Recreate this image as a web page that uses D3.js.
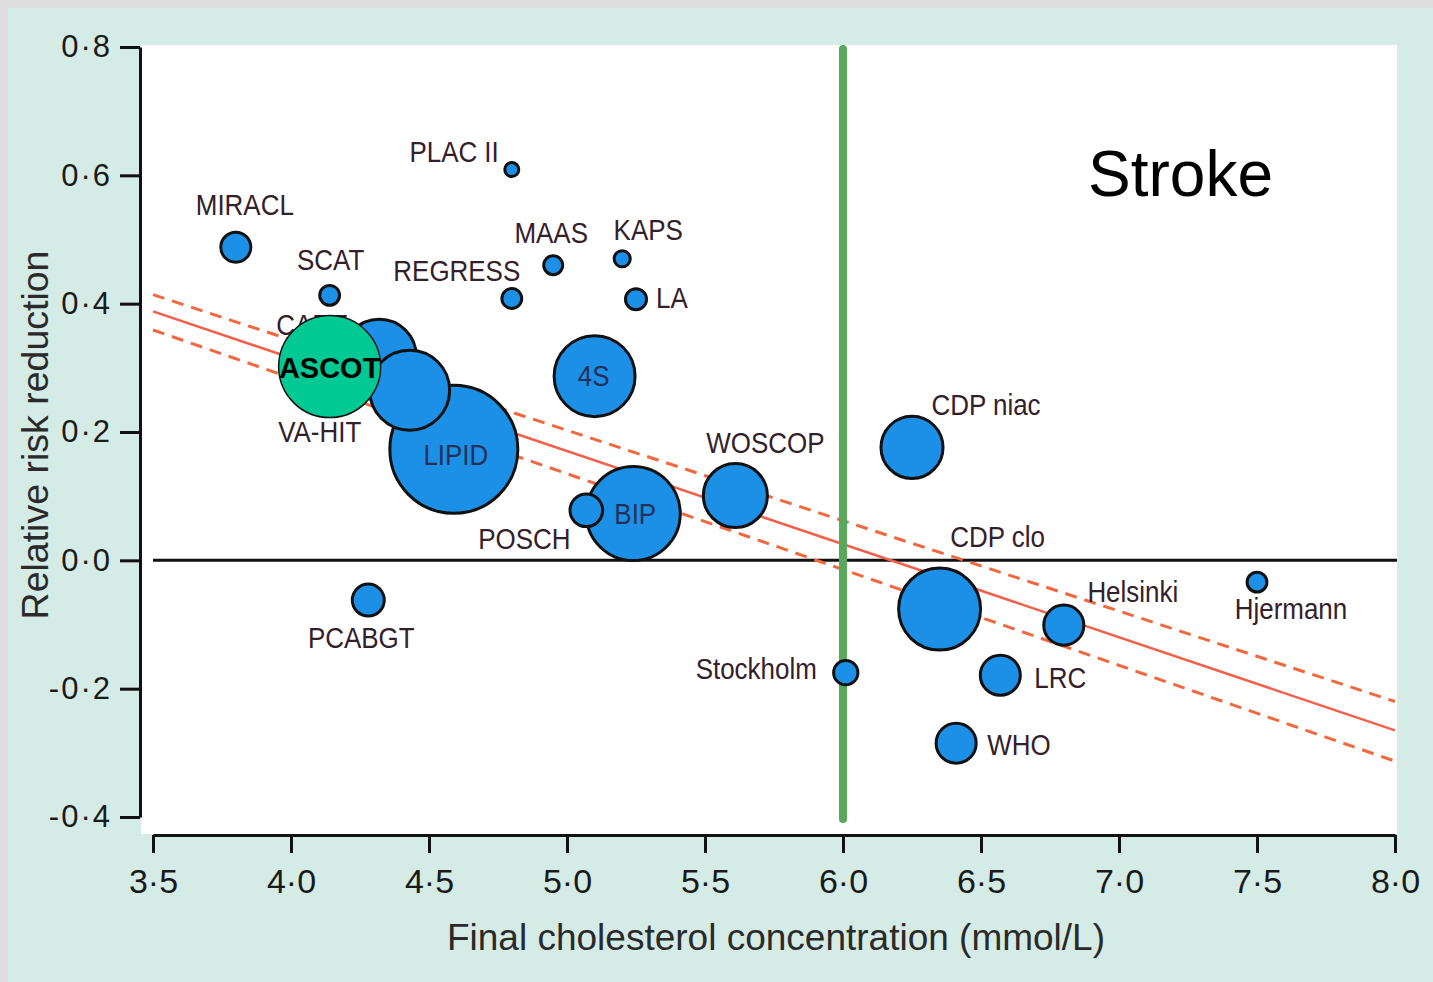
<!DOCTYPE html>
<html>
<head>
<meta charset="utf-8">
<script src="https://cdn.jsdelivr.net/npm/d3@7/dist/d3.min.js"></script>
<style>
  html, body { margin: 0; padding: 0; background: #dedede; }
  svg { display: block; }
</style>
</head>
<body>
<svg id="chart" width="1433" height="982"></svg>
<script>
// ---------------- DATA ----------------
const studies = ["MIRACL","SCAT","PLAC II","MAAS","KAPS","REGRESS","LA","LIPID","CARE","VA-HIT","ASCOT","4S","BIP","POSCH","WOSCOP","PCABGT","CDP niac","CDP clo","Helsinki","Hjermann","Stockholm","LRC","WHO"];
const cholesterol = [3.80,4.14,4.80,4.95,5.20,4.80,5.25,4.59,4.32,4.43,4.14,5.10,5.24,5.07,5.61,4.28,6.25,6.35,6.80,7.50,6.01,6.57,6.41];
const riskReduction = [0.488,0.413,0.609,0.460,0.470,0.408,0.407,0.173,0.318,0.265,0.302,0.287,0.073,0.078,0.101,-0.062,0.176,-0.076,-0.101,-0.034,-0.175,-0.179,-0.285];
const studyWeight = [5.5,2.4,1.2,2.2,1.6,2.4,2.7,100,33.4,39,63.5,40,54,6.5,25,6.25,23.5,41,9.8,2.4,3.6,9.8,9.8];
const xTicks = [3.5,4.0,4.5,5.0,5.5,6.0,6.5,7.0,7.5,8.0];
const yTicks = [0.8,0.6,0.4,0.2,0.0,-0.2,-0.4];
const fitX = [3.5, 8.0];
const fitMid = [0.388, -0.265];
const fitUpper = [0.414, -0.220];
const fitLower = [0.359, -0.313];
const thresholdX = 6.0;
const highlightStudy = "ASCOT";
const panelTitle = "Stroke";
const xTitle = "Final cholesterol concentration (mmol/L)";
const yTitle = "Relative risk reduction";

// ---------------- LAYOUT (label placement) ----------------
// [dx, dy, anchor]
const labelLayout = {
  "MIRACL":[9,-32,"middle"], "SCAT":[1,-25,"middle"], "PLAC II":[-13,-8,"end"],
  "MAAS":[-2,-22,"middle"], "KAPS":[26,-19,"middle"], "REGRESS":[-55,-18,"middle"],
  "LA":[20,9,"start"], "LIPID":[2,16,"middle"], "CARE":[-103,-21,"start"],
  "VA-HIT":[-90,52,"middle"], "ASCOT":[0,11,"middle"], "4S":[-1,10,"middle"],
  "BIP":[2,11,"middle"], "POSCH":[-62,39,"middle"], "WOSCOP":[30,-43,"middle"],
  "PCABGT":[-7,48,"middle"], "CDP niac":[74,-32,"middle"], "CDP clo":[58,-62,"middle"],
  "Helsinki":[69,-23,"middle"], "Hjermann":[34,37,"middle"], "Stockholm":[-29,6,"end"],
  "LRC":[34,13,"start"], "WHO":[31,12,"start"]
};
const insideLabels = new Set(["LIPID","4S","BIP"]);
const FONT = "'Liberation Sans', Arial, sans-serif";

// ---------------- DRAW ----------------
const svg = d3.select("#chart");
svg.append("rect").attr("x",8).attr("y",8).attr("width",1425).attr("height",974).attr("fill","#d5ebe5");

const x = d3.scaleLinear().domain([3.5, 8.0]).range([153, 1395]);
const y = d3.scaleLinear().domain([-0.4, 0.8]).range([817, 47]);
const r = d3.scaleSqrt().domain([0, 100]).range([0, 64]);

// plot background
svg.append("rect").attr("x",141).attr("y",45).attr("width",1256).attr("height",789).attr("fill","#ffffff");

const fmt = d => d3.format(".1f")(d).replace(".", "\u00b7").replace("\u2212", "-");

// Y axis
const yAxis = svg.append("g").attr("transform","translate(140,0)")
  .call(d3.axisLeft(y).tickValues(yTicks).tickSize(20).tickSizeOuter(0).tickPadding(8).tickFormat(fmt));
yAxis.select(".domain").attr("stroke","#111").attr("stroke-width",3);
yAxis.selectAll(".tick line").attr("stroke","#111").attr("stroke-width",3);
yAxis.selectAll(".tick text").attr("fill","#1a1a1a").style("font-family",FONT)
  .style("font-size","31px").style("letter-spacing","2px");

// X axis
const xAxis = svg.append("g").attr("transform","translate(0,835)")
  .call(d3.axisBottom(x).tickValues(xTicks).tickSize(18).tickSizeOuter(0).tickPadding(16).tickFormat(fmt));
xAxis.select(".domain").attr("stroke","#111").attr("stroke-width",3);
xAxis.selectAll(".tick line").attr("stroke","#111").attr("stroke-width",3);
xAxis.selectAll(".tick text").attr("fill","#1a1a1a").style("font-family",FONT)
  .style("font-size","34px");

// Axis titles
svg.append("text").attr("transform","translate(48,435) rotate(-90)").attr("text-anchor","middle")
  .style("font-family",FONT).style("font-size","37.5px").attr("fill","#2a2a2a").text(yTitle);
svg.append("text").attr("x",776).attr("y",950).attr("text-anchor","middle")
  .style("font-family",FONT).style("font-size","37px").attr("fill","#2a2a2a").text(xTitle);

// zero line
svg.append("line").attr("x1",x(3.5)).attr("x2",1397).attr("y1",y(0)).attr("y2",y(0))
  .attr("stroke","#111").attr("stroke-width",3);

// regression lines
const line = d3.line().x(d=>x(d[0])).y(d=>y(d[1]));
const toPts = arr => fitX.map((v,i)=>[v, arr[i]]);
svg.append("path").attr("d", line(toPts(fitUpper))).attr("fill","none").attr("stroke","#f2683e").attr("stroke-width",3).attr("stroke-dasharray","12 8");
svg.append("path").attr("d", line(toPts(fitLower))).attr("fill","none").attr("stroke","#f2683e").attr("stroke-width",3).attr("stroke-dasharray","12 8");
svg.append("path").attr("d", line(toPts(fitMid))).attr("fill","none").attr("stroke","#f0604a").attr("stroke-width",2.5);

// threshold green line
svg.append("line").attr("x1",x(thresholdX)).attr("x2",x(thresholdX)).attr("y1",y(0.8)+2).attr("y2",y(-0.4)+2)
  .attr("stroke","#5aa85c").attr("stroke-width",8).attr("stroke-linecap","round");

// bubbles (highlighted study drawn last, on top of labels)
const data = studies.map((s,i)=>({name:s, cx:cholesterol[i], ry:riskReduction[i], w:studyWeight[i]}));
const base = data.filter(d=>d.name!==highlightStudy);
const hi = data.filter(d=>d.name===highlightStudy);

svg.append("g").selectAll("circle").data(base).join("circle")
  .attr("cx", d=>x(d.cx)).attr("cy", d=>y(d.ry)).attr("r", d=>r(d.w))
  .attr("fill", "#1b90e6").attr("stroke", "#111").attr("stroke-width", 3);

// labels
const lab = svg.append("g");
base.forEach(d=>{
  const L = labelLayout[d.name];
  const px = x(d.cx) + L[0], py = y(d.ry) + L[1];
  lab.append("text").attr("transform",`translate(${px},${py}) scale(0.88,1)`).attr("text-anchor",L[2])
    .style("font-family",FONT).style("font-size","29.5px")
    .attr("fill", insideLabels.has(d.name) ? "#24305a" : "#33202a").text(d.name);
});

// highlighted study
const hg = svg.append("g");
hg.selectAll("circle").data(hi).join("circle")
  .attr("cx", d=>x(d.cx)).attr("cy", d=>y(d.ry)).attr("r", d=>r(d.w))
  .attr("fill","#00c993").attr("stroke","#111").attr("stroke-width",1.5);
hg.selectAll("text").data(hi).join("text")
  .attr("x", d=>x(d.cx)+labelLayout[d.name][0]).attr("y", d=>y(d.ry)+labelLayout[d.name][1])
  .attr("text-anchor","middle").style("font-family",FONT).style("font-weight","bold")
  .style("font-size","29px").attr("fill","#000").text(d=>d.name);

// panel title
svg.append("text").attr("x",1088).attr("y",196)
  .style("font-family",FONT).style("font-size","64px").attr("fill","#000").text(panelTitle);
</script>
</body>
</html>
